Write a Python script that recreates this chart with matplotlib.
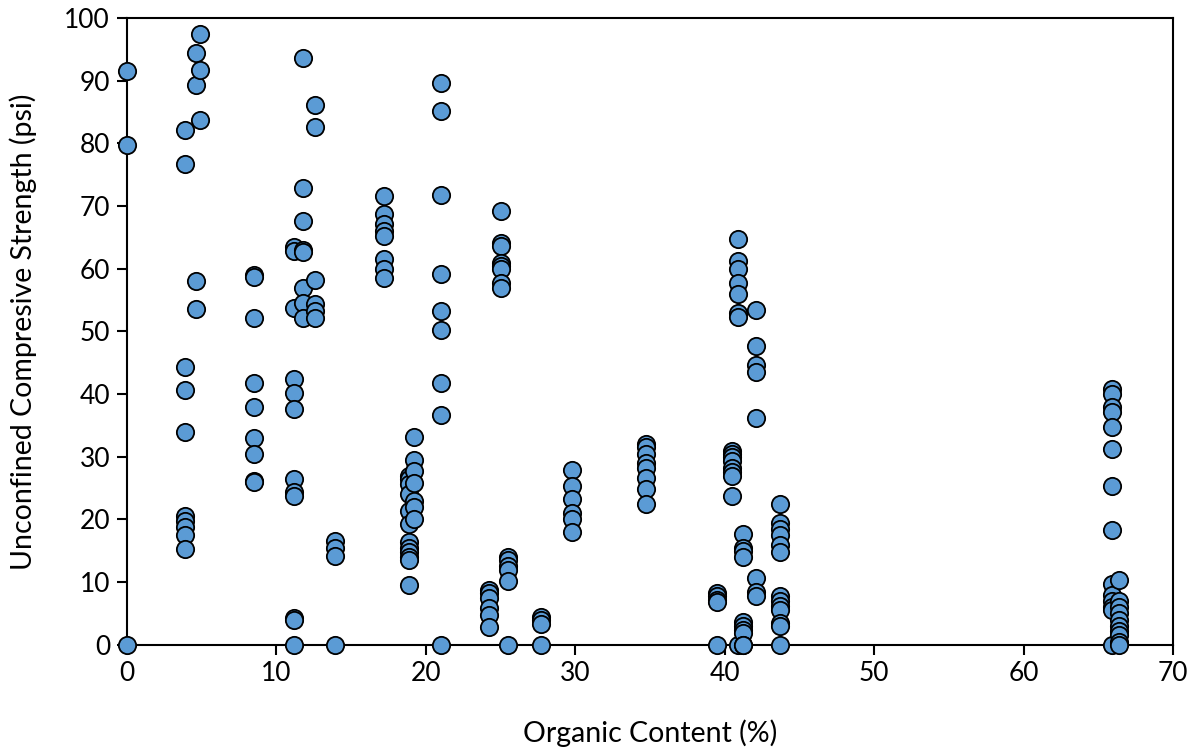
import numpy as np
import matplotlib
matplotlib.use('Agg')
import matplotlib.pyplot as plt

plt.rcParams['font.family'] = ['Lato', 'DejaVu Sans']

# 各有机质含量分组下的无侧限抗压强度 (psi)
oc_0 = [0.0, 0.0, 0.0]
ucs_0 = [91.5, 79.8, 0.0]

oc_4a = [3.9] * 10
ucs_4a = [82.2, 76.8, 44.4, 40.7, 34.0, 20.5, 19.8, 18.8, 17.5, 15.3]

oc_4b = [4.6] * 4
ucs_4b = [94.5, 89.3, 58.0, 53.6]

oc_5 = [4.9] * 3
ucs_5 = [97.4, 91.7, 83.7]

oc_8 = [8.5] * 9
ucs_8 = [59.0, 58.7, 52.2, 41.7, 38.0, 33.0, 30.4, 26.2, 25.9]

oc_11a = [11.2] * 12
ucs_11a = [63.5, 62.8, 53.7, 42.4, 40.1, 37.7, 26.4, 24.3, 23.7, 4.3, 3.9, 0.0]

oc_11b = [11.8] * 8
ucs_11b = [93.6, 72.9, 67.6, 63.0, 62.6, 56.9, 54.5, 52.1]

oc_12 = [12.6] * 6
ucs_12 = [86.1, 82.6, 58.2, 54.3, 53.3, 52.2]

oc_14 = [13.9] * 4
ucs_14 = [16.5, 15.5, 14.2, 0.0]

oc_17 = [17.2] * 8
ucs_17 = [71.6, 68.7, 67.2, 66.0, 65.3, 61.5, 60.0, 58.5]

oc_19a = [18.9] * 12
ucs_19a = [27.0, 26.5, 25.7, 24.0, 21.3, 19.3, 16.4, 15.5, 14.8, 14.0, 13.5, 9.5]

oc_19b = [19.2] * 7
ucs_19b = [33.1, 29.5, 27.8, 25.8, 23.0, 22.0, 20.0]

oc_21 = [21.0] * 9
ucs_21 = [89.6, 85.1, 71.8, 59.1, 53.3, 50.2, 41.8, 36.6, 0.0]

oc_24 = [24.2] * 6
ucs_24 = [8.7, 8.2, 7.5, 5.8, 4.8, 2.8]

oc_25a = [25.0] * 8
ucs_25a = [69.3, 64.1, 63.7, 61.0, 60.5, 60.0, 57.7, 57.0]

oc_25b = [25.5] * 6
ucs_25b = [14.0, 13.5, 12.5, 12.0, 10.2, 0.0]

oc_28 = [27.7] * 4
ucs_28 = [4.5, 4.0, 3.3, 0.0]

oc_30 = [29.8] * 6
ucs_30 = [27.9, 25.3, 23.3, 21.0, 20.0, 18.0]

oc_35 = [34.7] * 8
ucs_35 = [32.1, 31.5, 30.5, 29.0, 28.2, 26.6, 24.8, 22.5]

oc_39 = [39.5] * 5
ucs_39 = [8.3, 7.8, 7.2, 6.8, 0.0]

oc_40 = [40.5] * 8
ucs_40 = [31.0, 30.5, 30.0, 29.3, 28.2, 27.5, 27.0, 23.8]

oc_41a = [40.9] * 8
ucs_41a = [64.8, 61.3, 60.0, 57.8, 56.0, 53.0, 52.3, 0.0]

oc_41b = [41.2] * 10
ucs_41b = [17.7, 15.5, 15.0, 14.0, 3.7, 3.0, 2.3, 1.8, 0.0, 0.0]

oc_42 = [42.1] * 8
ucs_42 = [53.4, 47.6, 44.7, 43.6, 36.2, 10.7, 8.5, 7.8]

oc_44 = [43.7] * 13
ucs_44 = [22.5, 19.5, 18.5, 17.5, 16.0, 14.8, 7.8, 7.0, 6.2, 5.5, 3.5, 3.0, 0.0]

oc_66a = [65.9] * 14
ucs_66a = [40.8, 40.0, 38.0, 37.2, 34.8, 31.2, 25.4, 18.3, 9.7, 8.0, 7.0, 6.0, 5.5, 0.0]

oc_66b = [66.4] * 10
ucs_66b = [10.4, 7.0, 6.0, 5.0, 4.0, 3.0, 2.2, 1.5, 0.5, 0.0]

x = np.concatenate([oc_0, oc_4a, oc_4b, oc_5, oc_8, oc_11a, oc_11b, oc_12, oc_14,
                    oc_17, oc_19a, oc_19b, oc_21, oc_24, oc_25a, oc_25b, oc_28,
                    oc_30, oc_35, oc_39, oc_40, oc_41a, oc_41b, oc_42, oc_44,
                    oc_66a, oc_66b])
y = np.concatenate([ucs_0, ucs_4a, ucs_4b, ucs_5, ucs_8, ucs_11a, ucs_11b, ucs_12, ucs_14,
                    ucs_17, ucs_19a, ucs_19b, ucs_21, ucs_24, ucs_25a, ucs_25b, ucs_28,
                    ucs_30, ucs_35, ucs_39, ucs_40, ucs_41a, ucs_41b, ucs_42, ucs_44,
                    ucs_66a, ucs_66b])

fig = plt.figure(figsize=(11.96, 7.55), dpi=100)
ax = fig.add_axes([0.106, 0.146, 0.875, 0.830])

ax.scatter(x, y, s=155, color='#5B9BD5', edgecolors='black', linewidths=1.3,
           clip_on=False, zorder=3)

ax.set_xlim(0, 70)
ax.set_ylim(0, 100)
ax.set_xticks(np.arange(0, 71, 10))
ax.set_yticks(np.arange(0, 101, 10))
ax.tick_params(direction='out', length=7, width=1.5, labelsize=19, pad=5)

for side in ['left', 'bottom', 'top', 'right']:
    ax.spines[side].set_linewidth(1.5)

ax.set_xlabel('Organic Content (%)', fontsize=20.5, labelpad=24)
ax.set_ylabel('Unconfined Compresive Strength (psi)', fontsize=20.5, labelpad=20)

fig.savefig('out.png', dpi=100)
